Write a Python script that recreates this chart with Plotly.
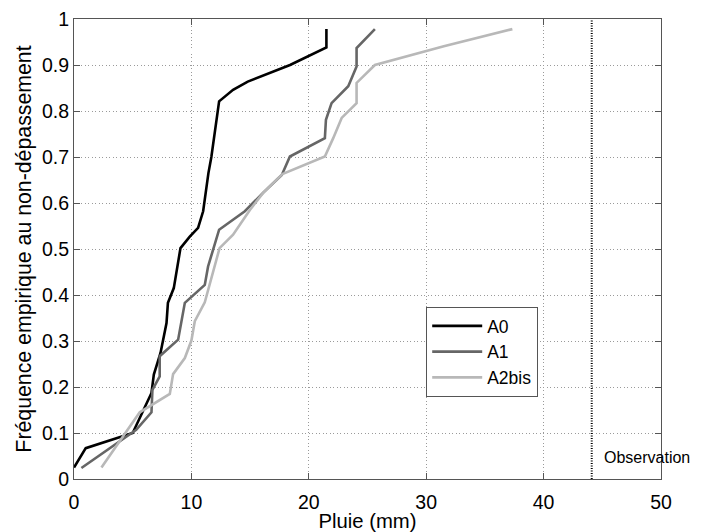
import plotly.graph_objects as go

# --- data ---
a0_x = [0.0, 1.0, 5.0, 6.6, 6.8, 7.02, 7.37, 7.88, 8.0, 8.5, 9.07, 9.86, 10.57, 11.0, 11.3, 11.45, 11.7, 11.9, 12.36, 13.55, 14.8, 18.4, 21.5, 21.5]
a0_y = [0.025, 0.067, 0.100, 0.187, 0.227, 0.245, 0.274, 0.339, 0.383, 0.415, 0.502, 0.527, 0.546, 0.582, 0.643, 0.665, 0.700, 0.738, 0.821, 0.846, 0.864, 0.900, 0.938, 0.978]

a1_x = [0.63, 5.3, 6.6, 6.68, 7.3, 7.3, 8.87, 9.16, 9.44, 11.14, 11.42, 12.36, 14.55, 16.1, 17.7, 18.39, 21.37, 21.46, 21.94, 23.36, 24.07, 24.07, 25.63]
a1_y = [0.024, 0.107, 0.145, 0.194, 0.223, 0.267, 0.303, 0.343, 0.383, 0.422, 0.462, 0.542, 0.582, 0.622, 0.661, 0.701, 0.741, 0.781, 0.817, 0.854, 0.897, 0.937, 0.978]

a2_x = [2.34, 5.6, 8.16, 8.44, 9.44, 10.0, 10.29, 11.14, 12.4, 13.55, 14.98, 16.11, 17.75, 21.37, 22.08, 22.8, 24.07, 24.07, 25.63, 31.5, 37.34]
a2_y = [0.025, 0.145, 0.185, 0.228, 0.263, 0.301, 0.343, 0.384, 0.502, 0.531, 0.585, 0.622, 0.663, 0.701, 0.741, 0.785, 0.817, 0.861, 0.900, 0.941, 0.978]

obs_x = 44.1

series_names = ["A0", "A1", "A2bis"]
x_ticks = [0, 10, 20, 30, 40, 50]
y_ticks = [0, 0.1, 0.2, 0.3, 0.4, 0.5, 0.6, 0.7, 0.8, 0.9, 1]
y_tick_text = ["0", "0.1", "0.2", "0.3", "0.4", "0.5", "0.6", "0.7", "0.8", "0.9", "1"]

FONT = "Liberation Sans, Arial, Helvetica, sans-serif"

fig = go.Figure()
colors = ["#000000", "#666666", "#b8b8b8"]
for name, xs, ys, c in zip(series_names, [a0_x, a1_x, a2_x], [a0_y, a1_y, a2_y], colors):
    fig.add_trace(go.Scatter(x=xs, y=ys, mode="lines", name=name,
                             line=dict(color=c, width=2.6)))

fig.add_trace(go.Scatter(x=[obs_x, obs_x], y=[0, 1], mode="lines", showlegend=False,
                         line=dict(color="#000000", width=2, dash="1px,1.5px"),
                         hoverinfo="skip"))

fig.add_annotation(x=obs_x + 0.9, y=0.046, xref="x", yref="y", text="Observation",
                   showarrow=False, xanchor="left", yanchor="middle",
                   font=dict(family=FONT, size=16, color="#000000"))

axis_common = dict(showline=True, linecolor="#555555", linewidth=1, mirror="ticks",
                   ticks="inside", ticklen=6, tickcolor="#555555",
                   showgrid=True, gridcolor="#9a9a9a", griddash="1px,2.5px", gridwidth=1,
                   zeroline=False, ticklabeloverflow="allow",
                   tickfont=dict(family=FONT, size=19.5, color="#000000"))

fig.update_xaxes(range=[0, 50], tickvals=x_ticks, ticklabelstandoff=6,
                 title=dict(text="Pluie (mm)", font=dict(family=FONT, size=20.3, color="#000000"), standoff=10),
                 **axis_common)
fig.update_yaxes(range=[0, 1], tickvals=y_ticks, ticktext=y_tick_text,
                 title=dict(text="Fréquence empirique au non-dépassement",
                            font=dict(family=FONT, size=21.3, color="#000000"), standoff=4),
                 **axis_common)

# The page body has an 8px default margin, so the figure is 8px smaller and margins compensate.
fig.update_layout(
    width=694, height=524,
    margin=dict(l=66, r=41, t=11, b=53, autoexpand=False),
    plot_bgcolor="#ffffff", paper_bgcolor="#ffffff",
    font=dict(family=FONT, size=19, color="#000000"),
    legend=dict(x=0.6, y=0.374, xanchor="left", yanchor="top",
                bgcolor="#ffffff", bordercolor="#555555", borderwidth=1,
                font=dict(family=FONT, size=17.5, color="#000000"),
                tracegroupgap=0, itemwidth=50),
    showlegend=True,
)

fig.write_html("out.html")
